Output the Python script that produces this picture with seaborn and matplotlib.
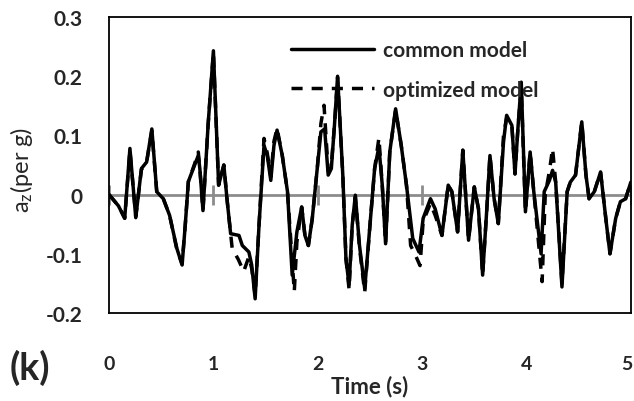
import numpy as np
import pandas as pd
import matplotlib
matplotlib.use("Agg")
import matplotlib.pyplot as plt
import matplotlib.transforms as mtransforms
import seaborn as sns

# Data
time_common = [0.00, 0.09, 0.15, 0.20, 0.256, 0.31, 0.36, 0.41, 0.457, 0.52, 0.58, 0.65, 0.70, 0.73, 0.76,
               0.82, 0.855, 0.87, 0.90, 0.95, 1.00, 1.05, 1.10, 1.13, 1.165, 1.245, 1.277, 1.34, 1.367, 1.40,
               1.437, 1.485, 1.516, 1.55, 1.58, 1.61, 1.66, 1.71, 1.755, 1.80, 1.846, 1.877, 1.91, 1.947, 1.995,
               2.03, 2.066, 2.10, 2.13, 2.16, 2.19, 2.24, 2.27, 2.30, 2.33, 2.36, 2.40, 2.45, 2.50, 2.545,
               2.586, 2.618, 2.65, 2.69, 2.746, 2.80, 2.85, 2.88, 2.91, 2.97, 3.01, 3.08, 3.125, 3.19, 3.25,
               3.285, 3.34, 3.39, 3.445, 3.50, 3.54, 3.58, 3.62, 3.65, 3.69, 3.73, 3.78, 3.81, 3.86, 3.89,
               3.92, 3.95, 3.99, 4.035, 4.07, 4.14, 4.17, 4.22, 4.25, 4.28, 4.34, 4.39, 4.42, 4.47, 4.53,
               4.57, 4.60, 4.65, 4.71, 4.76, 4.80, 4.855, 4.90, 4.95, 5.00]
az_common = [0.000, -0.019, -0.040, 0.078, -0.039, 0.044, 0.055, 0.111, 0.005, -0.007, -0.035, -0.091, -0.119, -0.052, 0.022,
             0.050, 0.066, 0.044, -0.027, 0.120, 0.243, 0.016, 0.050, -0.007, -0.066, -0.069, -0.086, -0.097, -0.119, -0.176,
             -0.052, 0.083, 0.066, 0.024, 0.083, 0.109, 0.066, 0.005, -0.136, -0.063, -0.021, -0.069, -0.086, -0.041, 0.044,
             0.106, 0.111, 0.033, 0.044, 0.117, 0.200, 0.033, -0.108, -0.153, -0.052, -0.001, -0.086, -0.159, -0.052, 0.044,
             0.081, 0.016, -0.083, 0.072, 0.145, 0.083, 0.016, -0.029, -0.074, -0.097, -0.040, -0.007, -0.024, -0.069, 0.016,
             0.005, -0.063, 0.075, -0.077, 0.013, -0.024, -0.136, -0.024, 0.066, -0.007, -0.049, 0.089, 0.134, 0.117, 0.035,
             0.117, 0.190, -0.029, 0.072, 0.005, -0.100, 0.005, 0.024, 0.041, 0.021, -0.156, 0.005, 0.021, 0.033, 0.123,
             0.033, -0.007, 0.005, 0.038, -0.040, -0.100, -0.040, -0.012, -0.007, 0.021]

time_opt = [0.00, 0.09, 0.15, 0.20, 0.256, 0.31, 0.36, 0.41, 0.457, 0.52, 0.58, 0.65, 0.70, 0.73, 0.76,
            0.82, 0.855, 0.87, 0.90, 0.95, 1.00, 1.05, 1.10, 1.13, 1.18, 1.24, 1.29, 1.34, 1.367, 1.40,
            1.437, 1.485, 1.516, 1.55, 1.58, 1.61, 1.66, 1.71, 1.775, 1.80, 1.846, 1.877, 1.91, 1.947, 1.995,
            2.03, 2.06, 2.10, 2.13, 2.16, 2.19, 2.24, 2.27, 2.30, 2.33, 2.36, 2.40, 2.45, 2.50, 2.545,
            2.586, 2.618, 2.65, 2.69, 2.746, 2.80, 2.85, 2.89, 2.93, 2.98, 3.01, 3.08, 3.125, 3.19, 3.25,
            3.285, 3.34, 3.39, 3.445, 3.50, 3.54, 3.58, 3.62, 3.65, 3.69, 3.73, 3.78, 3.81, 3.86, 3.89,
            3.92, 3.95, 3.99, 4.035, 4.07, 4.15, 4.18, 4.22, 4.25, 4.28, 4.34, 4.39, 4.42, 4.47, 4.53,
            4.57, 4.60, 4.65, 4.71, 4.76, 4.80, 4.855, 4.90, 4.95, 5.00]
az_opt = [0.000, -0.019, -0.040, 0.075, -0.037, 0.042, 0.055, 0.108, 0.005, -0.007, -0.035, -0.093, -0.117, -0.052, 0.022,
          0.052, 0.072, 0.044, -0.027, 0.120, 0.240, 0.016, 0.050, -0.007, -0.091, -0.110, -0.130, -0.105, -0.125, -0.170,
          -0.052, 0.095, 0.070, 0.030, 0.090, 0.112, 0.066, 0.005, -0.164, -0.080, -0.021, -0.069, -0.086, -0.041, 0.044,
          0.120, 0.151, 0.040, 0.050, 0.117, 0.198, 0.033, -0.108, -0.160, -0.052, -0.004, -0.090, -0.165, -0.052, 0.044,
          0.096, 0.016, -0.083, 0.072, 0.143, 0.083, 0.016, -0.086, -0.100, -0.120, -0.045, -0.015, -0.035, -0.069, 0.016,
          0.005, -0.063, 0.075, -0.077, 0.013, -0.024, -0.136, -0.024, 0.066, -0.007, -0.049, 0.100, 0.130, 0.117, 0.035,
          0.117, 0.180, -0.029, 0.072, 0.005, -0.147, 0.000, 0.040, 0.078, 0.021, -0.150, 0.005, 0.021, 0.033, 0.123,
          0.033, -0.007, 0.005, 0.038, -0.040, -0.100, -0.040, -0.012, -0.007, 0.021]

x_ticks = [0, 1, 2, 3, 4, 5]
y_ticks = [-0.2, -0.1, 0, 0.1, 0.2, 0.3]
y_tick_labels = ["-0.2", "-0.1", "0", "0.1", "0.2", "0.3"]

df_common = pd.DataFrame({"Time": time_common, "az": az_common})
df_opt = pd.DataFrame({"Time": time_opt, "az": az_opt})

sns.set_style("white")
plt.rcParams["font.family"] = ["Lato", "DejaVu Sans"]

fig = plt.figure(figsize=(6.34, 4.02), dpi=100)
ax = fig.add_axes([0.172, 0.219, 0.823, 0.736])

# zero line with small tick marks
ax.axhline(0, color="#8c8c8c", lw=2, zorder=1)
ax.plot(x_ticks, [0] * len(x_ticks), ls="none", marker="|", ms=14, mew=2, color="#8c8c8c", zorder=1)

sns.lineplot(data=df_opt, x="Time", y="az", ax=ax, color="black", lw=2.5, sort=False,
             linestyle=(0, (3.2, 2.6)), label="optimized model", zorder=2)
sns.lineplot(data=df_common, x="Time", y="az", ax=ax, color="black", lw=2.5, sort=False,
             label="common model", zorder=3)

ax.set_xlim(0, 5)
ax.set_ylim(-0.2, 0.3)
ax.set_xticks(x_ticks)
ax.set_yticks(y_ticks)
ax.set_yticklabels(y_tick_labels)
ax.tick_params(axis="x", length=0, pad=30, labelsize=14)
ax.tick_params(axis="y", length=0, pad=19, labelsize=15)
for lab in ax.get_xticklabels() + ax.get_yticklabels():
    lab.set_fontweight("bold")
# keep the last x label inside the figure
last = ax.get_xticklabels()[-1]
last.set_transform(last.get_transform() + mtransforms.ScaledTranslation(-4 / 100, 0, fig.dpi_scale_trans))

for sp in ax.spines.values():
    sp.set_visible(True)
    sp.set_color("black")
    sp.set_linewidth(1.3)

ax.set_xlabel("Time (s)", fontsize=16, fontweight="bold", labelpad=2)
ax.set_ylabel(r"$\mathregular{a_z}$(per g)", fontsize=17)
ax.yaxis.set_label_coords(-0.142, 0.486)

handles, labels = ax.get_legend_handles_labels()
leg = ax.legend(handles[::-1], labels[::-1], loc="upper left", bbox_to_anchor=(0.349, 0.923),
                frameon=False, handlelength=4.0, handletextpad=0.43, labelspacing=0.95,
                borderpad=0, borderaxespad=0, prop={"weight": "bold", "size": 15})

fig.text(0.047, 0.085, "(k)", fontsize=27, fontweight="bold", ha="center", va="center")

plt.savefig("out.png", dpi=100)
